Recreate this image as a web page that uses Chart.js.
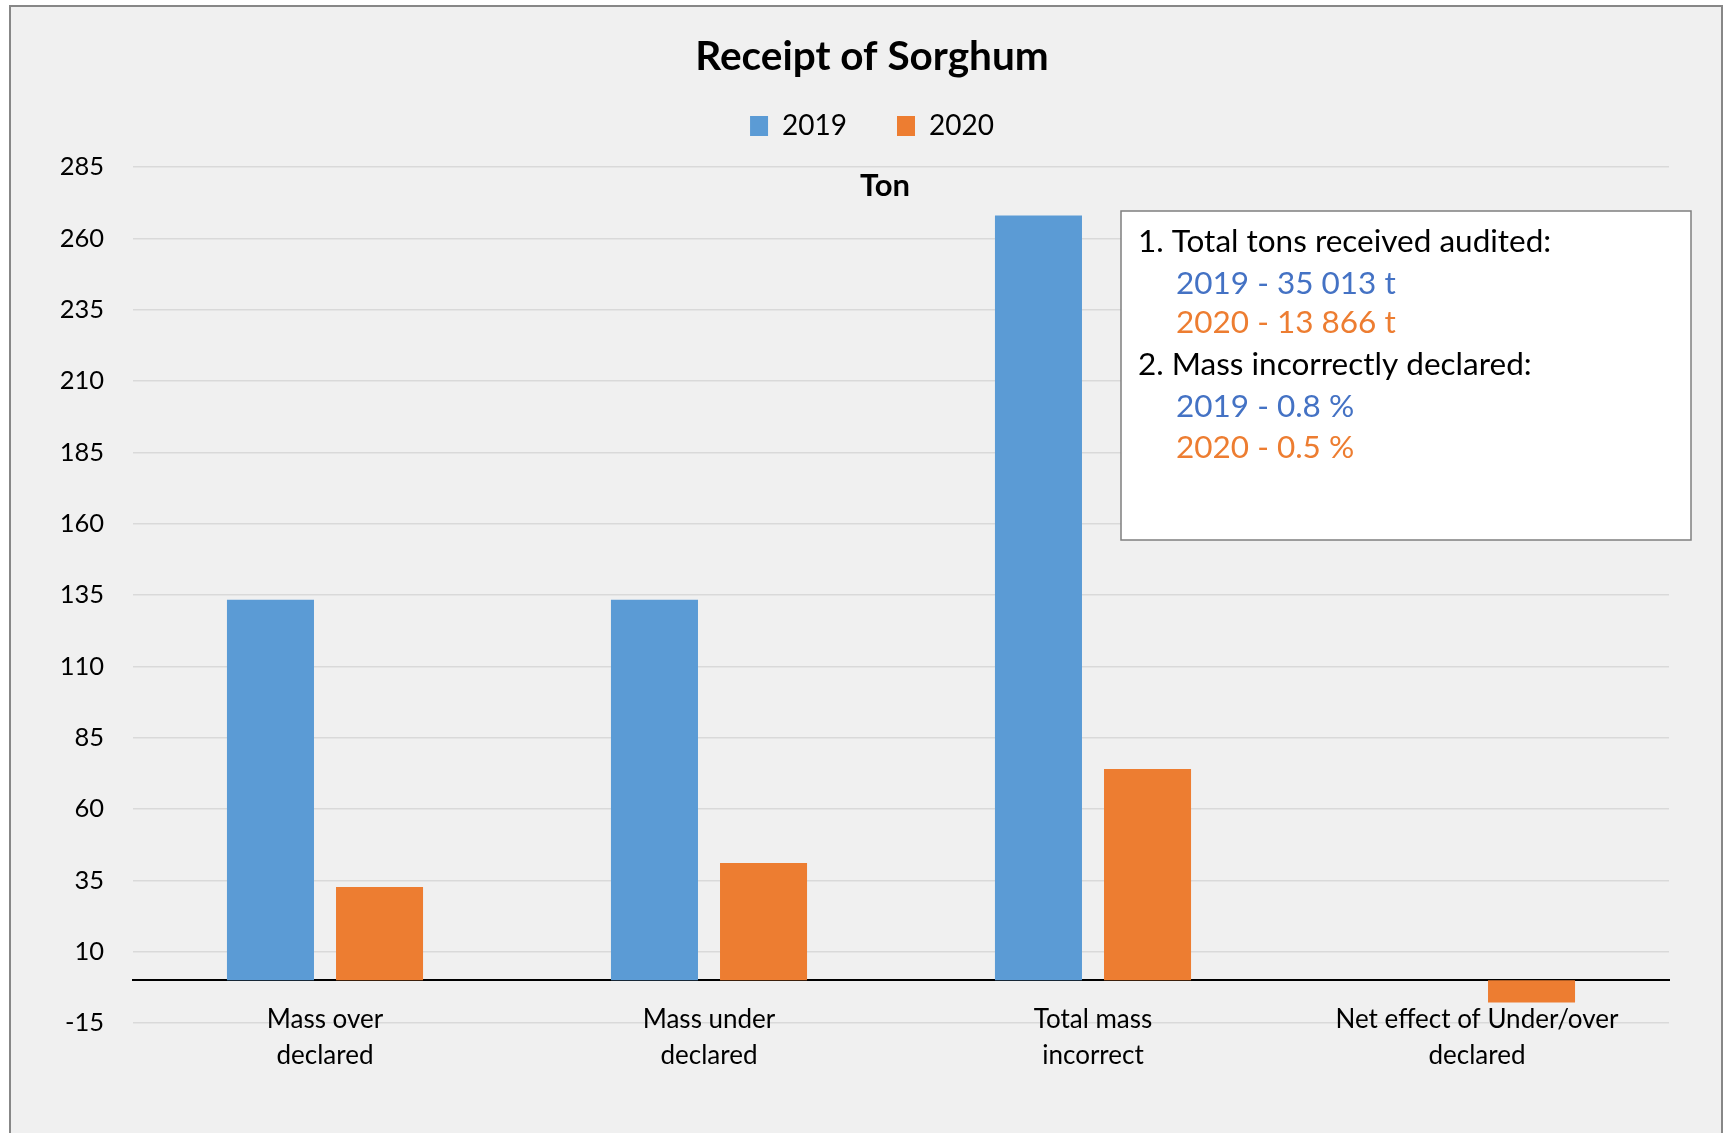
<!DOCTYPE html>
<html>
<head>
<meta charset="utf-8">
<script src="https://cdn.jsdelivr.net/npm/chart.js@4.4.1/dist/chart.umd.min.js"></script>
<style>
  html, body { margin: 0; padding: 0; background: #ffffff; width: 1725px; height: 1133px; overflow: hidden; }
  #frame { position: absolute; left: 9px; top: 5px; width: 1714px; height: 1200px; box-sizing: border-box;
           border: 2px solid #878787; background: #f0f0f0; }
  #c { position: absolute; left: 0; top: 0; }
</style>
</head>
<body>
<div id="frame"></div>
<canvas id="c" width="1725" height="1133"></canvas>
<script>
// ---- data ----
const chartTitle = "Receipt of Sorghum";
const unitLabel = "Ton";
const categories = [
  ["Mass over", "declared"],
  ["Mass under", "declared"],
  ["Total mass", "incorrect"],
  ["Net effect of Under/over", "declared"]
];
const seriesNames = ["2019", "2020"];
const values2019 = [133.3, 133.3, 268, 0];
const values2020 = [32.7, 41.1, 74, -7.8];
const yTicks = [-15, 10, 35, 60, 85, 110, 135, 160, 185, 210, 235, 260, 285];
const noteLines = [
  { text: "1. Total tons received audited:", indent: 0, color: "#000000" },
  { text: "2019 - 35 013 t", indent: 1, color: "#4472c4" },
  { text: "2020 - 13 866 t", indent: 1, color: "#ed7d31" },
  { text: "2. Mass incorrectly declared:", indent: 0, color: "#000000" },
  { text: "2019 - 0.8 %", indent: 1, color: "#4472c4" },
  { text: "2020 - 0.5 %", indent: 1, color: "#ed7d31" }
];

// ---- styles ----
const BLUE = "#5b9bd5";
const ORANGE = "#ed7d31";
const FONT = "Lato";

const annotationPlugin = {
  id: "annotations",
  afterDraw(chart) {
    const ctx = chart.ctx;
    ctx.save();
    // unit label
    ctx.font = "bold 31px " + FONT;
    ctx.fillStyle = "#000";
    ctx.textAlign = "center";
    ctx.textBaseline = "middle";
    ctx.fillText(unitLabel, 885, 186);
    // note box
    const bx = 1121, by = 211, bw = 570, bh = 329;
    ctx.fillStyle = "#ffffff";
    ctx.fillRect(bx, by, bw, bh);
    ctx.strokeStyle = "#7f7f7f";
    ctx.lineWidth = 1.5;
    ctx.strokeRect(bx, by, bw, bh);
    ctx.font = "31.5px " + FONT;
    ctx.textAlign = "left";
    ctx.textBaseline = "alphabetic";
    const baselines = [252, 294, 333, 374.5, 416.5, 458];
    noteLines.forEach((ln, i) => {
      ctx.fillStyle = ln.color;
      ctx.fillText(ln.text, ln.indent ? 1176 : 1138, baselines[i]);
    });
    ctx.restore();
  }
};

function build() {
  Chart.defaults.font.family = FONT;
  Chart.defaults.color = "#000";
  new Chart(document.getElementById("c"), {
    type: "bar",
    data: {
      labels: categories,
      datasets: [
        { label: seriesNames[0], data: values2019, backgroundColor: BLUE, borderWidth: 0,
          categoryPercentage: 0.568, barPercentage: 0.798 },
        { label: seriesNames[1], data: values2020, backgroundColor: ORANGE, borderWidth: 0,
          categoryPercentage: 0.568, barPercentage: 0.798 }
      ]
    },
    options: {
      responsive: false,
      animation: false,
      events: [],
      layout: { padding: { left: 28, right: 9, top: 0, bottom: 110 } },
      plugins: {
        tooltip: { enabled: false },
        title: {
          display: true,
          text: chartTitle,
          color: "#000",
          font: { family: FONT, size: 40.5, weight: "bold", lineHeight: "10px" },
          padding: { top: 51.5, bottom: 0.5 }
        },
        legend: {
          display: true,
          position: "top",
          labels: {
            boxWidth: 18,
            boxHeight: 20,
            padding: 50,
            color: "#000",
            font: { family: FONT, size: 28 }
          }
        }
      },
      scales: {
        x: {
          position: { y: 0 },
          grid: { display: false, drawTicks: false },
          border: { display: true, color: "#000000", width: 2 },
          ticks: {
            padding: 21,
            maxRotation: 0,
            autoSkip: false,
            color: "#000",
            font: { family: FONT, size: 26, lineHeight: 1.385 }
          }
        },
        xTop: {
          type: "category",
          position: "top",
          grid: { display: false, drawTicks: false },
          border: { display: false },
          ticks: { display: false },
          afterFit(scale) { scale.height = 17; }
        },
        y: {
          min: -15,
          max: 285,
          afterFit(scale) { scale.width = 105; },
          afterBuildTicks(scale) { scale.ticks = yTicks.map(v => ({ value: v })); },
          grid: { color: "#d9d9d9", lineWidth: 1.5, drawTicks: false },
          border: { display: false },
          ticks: {
            padding: 29,
            color: "#000",
            font: { family: FONT, size: 25.5 }
          }
        },
        yRight: {
          type: "linear",
          position: "right",
          grid: { display: false, drawTicks: false },
          border: { display: false },
          ticks: { display: false },
          afterFit(scale) { scale.width = 47; }
        }
      }
    },
    plugins: [annotationPlugin]
  });
}

Promise.all([
  document.fonts.load("28px Lato"),
  document.fonts.load("bold 35px Lato")
]).then(build, build);
</script>
</body>
</html>
